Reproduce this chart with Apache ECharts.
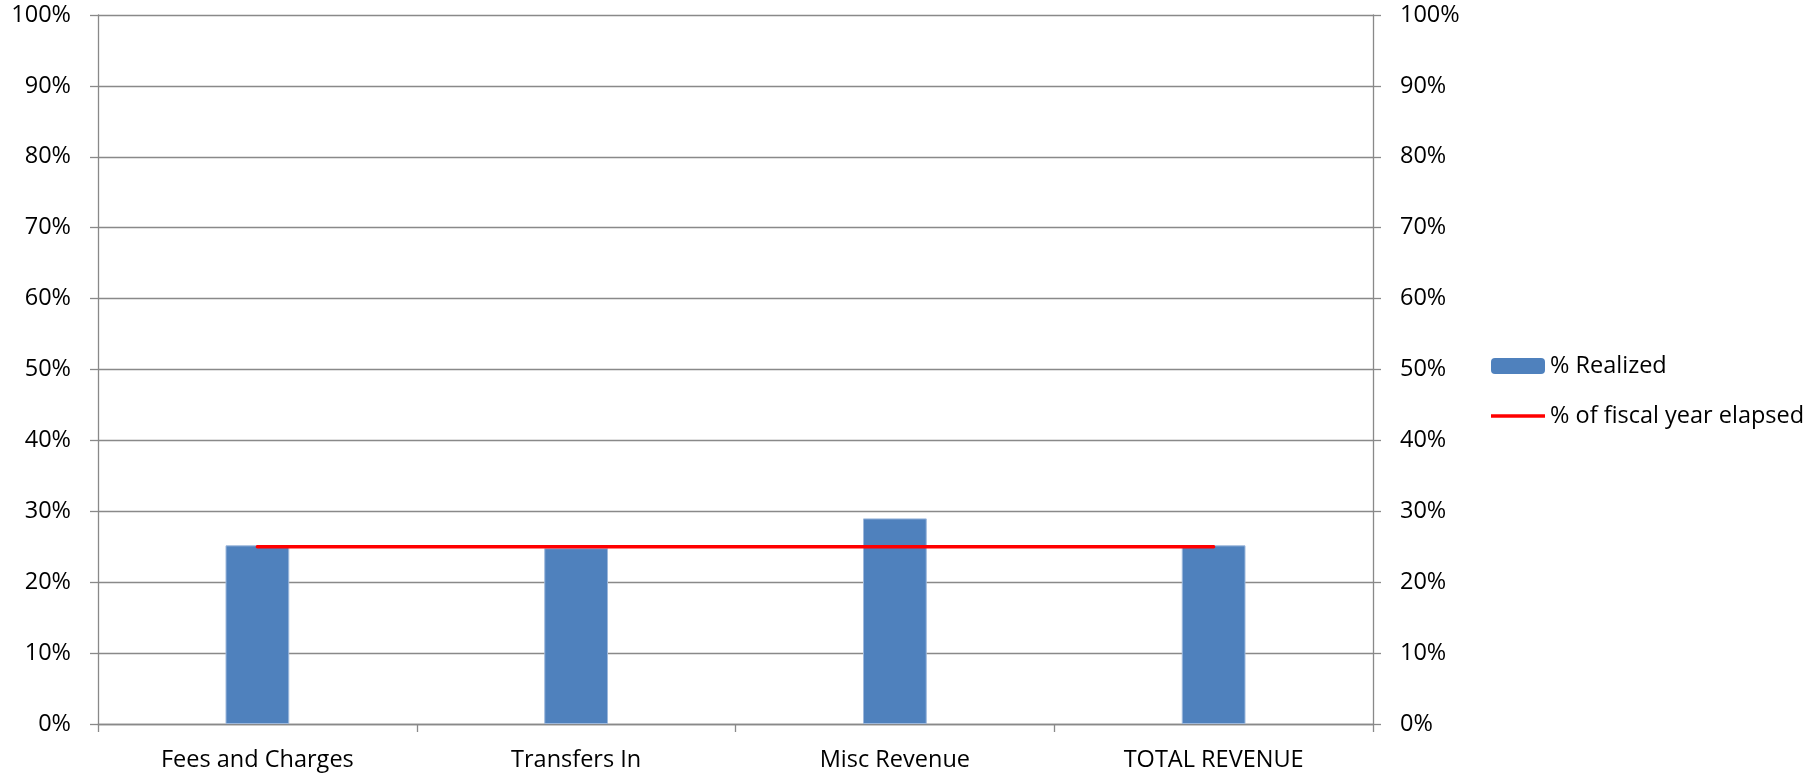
<!DOCTYPE html>
<html>
<head>
<meta charset="utf-8">
<title>Revenue % Realized</title>
<script src="https://cdn.jsdelivr.net/npm/echarts@6/dist/echarts.min.js"></script>
<style>
  html, body { margin: 0; padding: 0; background: #fff; }
  #chart { width: 1812px; height: 775px; }
</style>
</head>
<body>
<div id="chart"></div>
<script>
// Revenue categories and their realized share of budget (percent)
const categories = ['Fees and Charges', 'Transfers In', 'Misc Revenue', 'TOTAL REVENUE'];
const realized = [25.2, 24.8, 29.0, 25.2];
// Portion of the fiscal year that has elapsed (percent)
const yearElapsed = [25, 25, 25, 25];
// Percent axis ticks
const axisMin = 0;
const axisMax = 100;
const axisStep = 10;

const FONT = '"Open Sans", Lato, sans-serif';
const FONT_SIZE = 23.5;
const GRAY = '#898989';

const valueAxis = (position) => ({
  type: 'value',
  position: position,
  min: axisMin,
  max: axisMax,
  interval: axisStep,
  axisLine: { show: true, lineStyle: { color: GRAY, width: 1.3 } },
  axisTick: { show: true, length: 8, lineStyle: { color: GRAY, width: 1.3 } },
  splitLine: { show: position === 'left', lineStyle: { color: GRAY, width: 1.3 } },
  axisLabel: {
    margin: 27,
    color: '#000',
    fontSize: FONT_SIZE,
    fontFamily: FONT,
    formatter: v => v + '%'
  }
});

const chart = echarts.init(document.getElementById('chart'), null, { renderer: 'canvas' });
chart.setOption({
  animation: false,
  backgroundColor: '#fff',
  grid: { left: 98, right: 439, top: 15, bottom: 51, containLabel: false },
  legend: {
    orient: 'vertical',
    left: 1491,
    top: 354,
    padding: 0,
    itemWidth: 54,
    itemHeight: 16,
    itemGap: 26,
    textStyle: { color: '#000', fontSize: FONT_SIZE, fontFamily: FONT },
    data: [
      { name: '% Realized', itemStyle: { borderWidth: 0 } },
      // plain red stroke as the legend key for the line
      { name: '% of fiscal year elapsed', icon: 'path://M0,0 L108,0 L108,7 L0,7 Z' }
    ]
  },
  xAxis: {
    type: 'category',
    data: categories,
    axisLine: { show: true, lineStyle: { color: GRAY, width: 1.3 } },
    axisTick: { show: true, length: 8, alignWithLabel: false, lineStyle: { color: GRAY, width: 1.3 } },
    axisLabel: { margin: 24, color: '#000', fontSize: FONT_SIZE, fontFamily: FONT, interval: 0 }
  },
  yAxis: [valueAxis('left'), valueAxis('right')],
  series: [
    {
      name: '% Realized',
      type: 'bar',
      yAxisIndex: 0,
      data: realized,
      barWidth: '20%',
      itemStyle: { color: '#4F81BD', borderColor: '#9db8dc', borderWidth: 1 }
    },
    {
      name: '% of fiscal year elapsed',
      type: 'line',
      yAxisIndex: 1,
      data: yearElapsed,
      symbol: 'none',
      lineStyle: { color: '#FF0000', width: 3.5, cap: 'round' },
      itemStyle: { color: '#FF0000' }
    }
  ]
});
</script>
</body>
</html>
